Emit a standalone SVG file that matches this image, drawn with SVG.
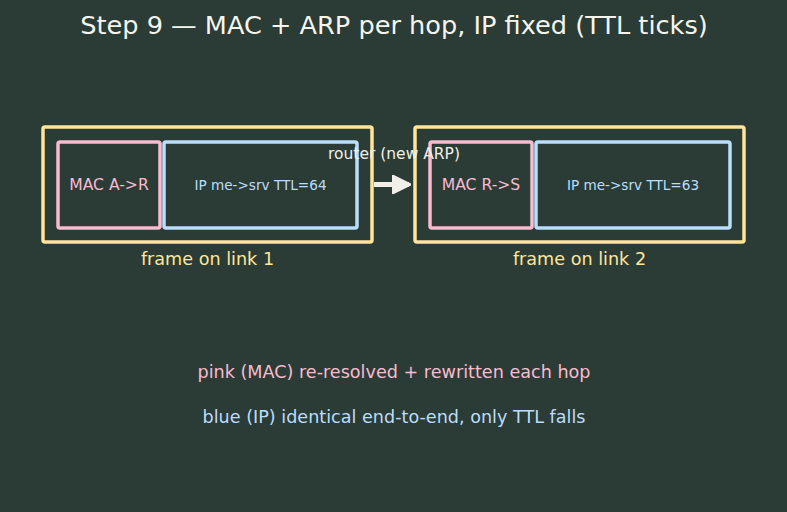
<svg xmlns="http://www.w3.org/2000/svg" width="787" height="512" viewBox="0 0 787 512">
<style>
text{font-family:"DejaVu Sans",sans-serif;text-anchor:middle;dominant-baseline:central}
.frame{fill:none;stroke:#ffe599;stroke-width:3.5}
.mac{fill:none;stroke:#f8bbd0;stroke-width:3.5}
.ip{fill:none;stroke:#bbdefb;stroke-width:3.5}
.t-mac{fill:#f8bbd0;font-size:15.6px}
.t-ip{fill:#bbdefb;font-size:13.6px}
.t-frame{fill:#ffe599;font-size:17.6px}
</style>
<defs>
<marker id="ah" viewBox="0 0 10 10" refX="9" refY="5" markerWidth="3.7" markerHeight="3.7" orient="auto"><path d="M0,0 L10,5 L0,10 z" fill="#f0f0e8" stroke="#f0f0e8" stroke-width="1" stroke-linejoin="round"/></marker>
</defs>
<rect width="787" height="512" fill="#2b3b35"/>
<text x="394" y="25" font-size="25.6" fill="#f5f5ee">Step 9 — MAC + ARP per hop, IP fixed (TTL ticks)</text>
<g id="frame1">
<rect class="frame" x="43" y="127" width="329" height="115" rx="2"/>
<text class="t-frame" x="207.5" y="259">frame on link 1</text>
</g>
<g id="mac1"><rect class="mac" x="58" y="142" width="102" height="86" rx="2"/><text class="t-mac" x="109" y="185">MAC A-&gt;R</text></g>
<g id="ip1"><rect class="ip" x="164" y="142" width="193" height="86" rx="2"/><text class="t-ip" x="260.5" y="185">IP me-&gt;srv TTL=64</text></g>
<g id="frame2">
<rect class="frame" x="415" y="127" width="329" height="115" rx="2"/>
<text class="t-frame" x="579.5" y="259">frame on link 2</text>
</g>
<g id="mac2"><rect class="mac" x="430" y="142" width="102" height="86" rx="2"/><text class="t-mac" x="481" y="185">MAC R-&gt;S</text></g>
<g id="ip2"><rect class="ip" x="536" y="142" width="194" height="86" rx="2"/><text class="t-ip" x="633" y="185">IP me-&gt;srv TTL=63</text></g>
<g id="connectors">
<line x1="374" y1="184.5" x2="409" y2="184.5" stroke="#f0f0e8" stroke-width="5" marker-end="url(#ah)"/>
<text x="394" y="153.5" font-size="15.5" fill="#f0f0e8">router (new ARP)</text>
</g>
<g id="notes">
<text x="394" y="372" font-size="17.6" fill="#f8bbd0">pink (MAC) re-resolved + rewritten each hop</text>
<text x="394" y="417" font-size="17.6" fill="#bbdefb">blue (IP) identical end-to-end, only TTL falls</text>
</g>
</svg>
